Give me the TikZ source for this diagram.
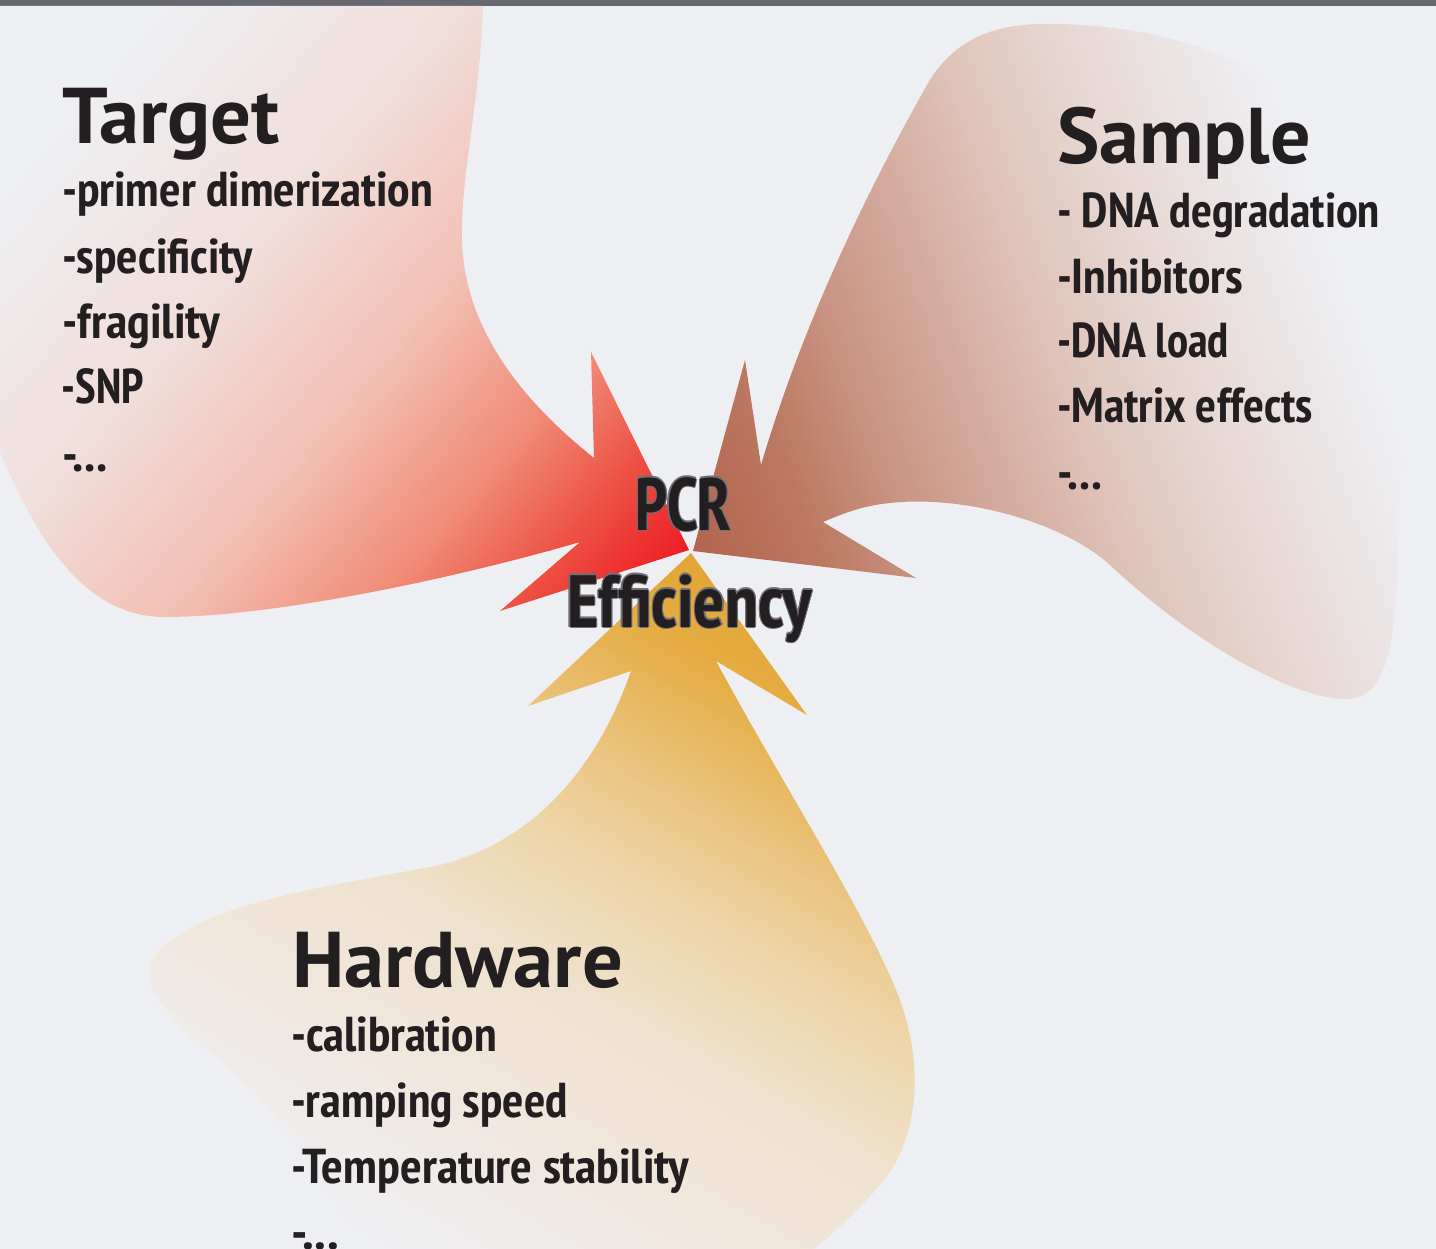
\documentclass[tikz,border=0pt]{standalone}
\usepackage{fontspec}
\usepackage{graphicx}
\IfFontExistsTF{PT Sans Narrow}{%
  \newfontfamily\condf{PT Sans Narrow}
}{%
  \newfontfamily\condf{PT Sans}[FakeStretch=0.8]
}
\newfontfamily\headf{PT Sans}

\definecolor{bgc}{RGB}{238,239,243}
\definecolor{barc}{RGB}{103,104,112}
\definecolor{txt}{RGB}{35,31,32}
\definecolor{outl}{RGB}{112,112,118}
% red stops
\definecolor{r0}{RGB}{237,28,36}
\definecolor{r1}{RGB}{237,85,70}
\definecolor{r2}{RGB}{240,140,120}
\definecolor{r3}{RGB}{242,192,180}
\definecolor{r4}{RGB}{241,222,218}
% brown stops
\definecolor{b0}{RGB}{178,100,78}
\definecolor{b1}{RGB}{188,122,98}
\definecolor{b2}{RGB}{200,145,128}
\definecolor{b3}{RGB}{224,198,188}
\definecolor{b4}{RGB}{231,215,210}
% yellow stops
\definecolor{y0}{RGB}{227,165,52}
\definecolor{y1}{RGB}{229,173,68}
\definecolor{y2}{RGB}{234,195,125}
\definecolor{y3}{RGB}{237,212,165}
\definecolor{y4}{RGB}{239,225,204}
\definecolor{y5}{RGB}{240,232,224}

\newlength\fitlen
\newcommand\fitto[2]{\settowidth\fitlen{#2}\pgfmathsetmacro\fitsx{#1/\fitlen}\scalebox{\fitsx}[1]{#2}}
\newcommand\band[4]{\shade[left color=#3,right color=#4] (#1-0.5,-2000) rectangle (#2+0.5,2000);}

\tikzset{
  headtxt/.style={anchor=base west, inner sep=0pt, outer sep=0pt, text=txt,
    font=\headf\bfseries\fontsize{79}{79}\selectfont},
  itemtxt/.style={anchor=base west, inner sep=0pt, outer sep=0pt, text=txt,
    font=\condf\bfseries\fontsize{49}{49}\selectfont},
  pcrtxt/.style={anchor=base, inner sep=0pt, outer sep=0pt, text=txt,
    font=\condf\bfseries\fontsize{74}{74}\selectfont},
  pcrout/.style={pcrtxt, text=outl},
}

\begin{document}
\begin{tikzpicture}[x=1pt,y=-1pt]
\useasboundingbox (0,0) rectangle (1436,1249);
\fill[bgc] (0,0) rectangle (1436,1249);
\fill[barc] (0,0) rectangle (1436,6);

% ---------- Target (red) ----------
\begin{scope}
\clip (0,6) -- (483,6) .. controls (480,100) and (462,170) .. (462,230)
  .. controls (460,320) and (515,395) .. (594,458) -- (591,352) -- (689,550)
  -- (500,611) -- (580,542) .. controls (450,580) and (270,617) .. (165,617)
  .. controls (95,617) and (45,560) .. (0,452) -- cycle;
\begin{scope}[transform canvas={shift={(689,550)},rotate=139.3}]
\fill[r0] (-1500,-2000) rectangle (0,2000);
\band{0}{105}{r0}{r1}
\band{105}{203}{r1}{r2}
\band{203}{353}{r2}{r3}
\band{353}{526}{r3}{r4}
\band{526}{751}{r4}{bgc}
\fill[bgc] (751,-2000) rectangle (3000,2000);
\end{scope}
\end{scope}

% ---------- Sample (brown) ----------
\begin{scope}
\clip (693,551) -- (745,360) -- (761,465) .. controls (795,350) and (850,220) .. (931,78)
  .. controls (960,35) and (1000,22) .. (1060,24)
  .. controls (1200,28) and (1320,80) .. (1380,200)
  .. controls (1410,270) and (1400,450) .. (1398,550)
  .. controls (1396,650) and (1385,700) .. (1345,699)
  .. controls (1290,698) and (1190,640) .. (1110,565)
  .. controls (1060,520) and (960,495) .. (890,503)
  .. controls (860,506) and (840,515) .. (823,522) -- (916,578) -- cycle;
\begin{scope}[transform canvas={shift={(693,551)},rotate=20}]
\fill[b0] (-1500,-2000) rectangle (0,2000);
\band{0}{120}{b0}{b1}
\band{120}{200}{b1}{b2}
\band{200}{420}{b2}{b3}
\band{420}{520}{b3}{b4}
\band{520}{700}{b4}{bgc}
\fill[bgc] (700,-2000) rectangle (3000,2000);
\end{scope}
\end{scope}

% ---------- Hardware (yellow) ----------
\begin{scope}
\clip (691,553) -- (807,715) -- (716,661) .. controls (780,780) and (870,920) .. (900,1000)
  .. controls (925,1070) and (918,1140) .. (880,1185)
  .. controls (850,1220) and (820,1245) .. (800,1260) -- (370,1260)
  .. controls (330,1180) and (270,1100) .. (220,1060)
  .. controls (170,1020) and (130,980) .. (160,950)
  .. controls (210,900) and (340,885) .. (440,865)
  .. controls (540,840) and (600,760) .. (631,671) -- (528,706) -- cycle;
\begin{scope}[transform canvas={shift={(691,553)},rotate=-120}]
\fill[y0] (-1500,-2000) rectangle (0,2000);
\band{0}{90}{y0}{y1}
\band{90}{210}{y1}{y2}
\band{210}{300}{y2}{y3}
\band{300}{430}{y3}{y4}
\band{430}{600}{y4}{y5}
\band{600}{760}{y5}{bgc}
\fill[bgc] (760,-2000) rectangle (3000,2000);
\end{scope}
\end{scope}

% ---------- Texts ----------
\node[headtxt] (t-head) at (62,144) {\fitto{218}{Target}};
\node[itemtxt] (t1) at (62,207) {\fitto{371}{-primer dimerization}};
\node[itemtxt] (t2) at (62,274) {\fitto{191}{-specificity}};
\node[itemtxt] (t3) at (62,339) {\fitto{158}{-fragility}};
\node[itemtxt] (t4) at (62,404) {\fitto{82}{-SNP}};
\node[itemtxt] (t5) at (62,471) {\fitto{46}{-...}};

\node[headtxt] (s-head) at (1057,164) {\fitto{254}{Sample}};
\node[itemtxt] (s1) at (1057,228) {\fitto{323}{- DNA degradation}};
\node[itemtxt] (s2) at (1057,294) {\fitto{186}{-Inhibitors}};
\node[itemtxt] (s3) at (1057,358) {\fitto{172}{-DNA load}};
\node[itemtxt] (s4) at (1057,423) {\fitto{256}{-Matrix effects}};
\node[itemtxt] (s5) at (1057,489) {\fitto{45}{-...}};

\node[headtxt] (h-head) at (292,987) {\fitto{331}{Hardware}};
\node[itemtxt] (h1) at (291,1051) {\fitto{206}{-calibration}};
\node[itemtxt] (h2) at (291,1117) {\fitto{277}{-ramping speed}};
\node[itemtxt] (h3) at (291,1183) {\fitto{398}{-Temperature stability}};
\node[itemtxt] (h4) at (291,1249) {\fitto{48}{-...}};

% gray outline: copies of the centre text shifted in eight directions
\foreach \a in {0,45,...,315}{
  \node[pcrout, shift={(\a:1.1)}] (pcr-o\a) at (683.5,530) {\fitto{96}{PCR}};
  \node[pcrout, shift={(\a:1.1)}] (eff-o\a) at (689.5,627) {\fitto{245}{Efficiency}};
}
\node[pcrtxt] (pcr) at (683.5,530) {\fitto{96}{PCR}};
\node[pcrtxt] (eff) at (689.5,627) {\fitto{245}{Efficiency}};
\end{tikzpicture}
\end{document}
